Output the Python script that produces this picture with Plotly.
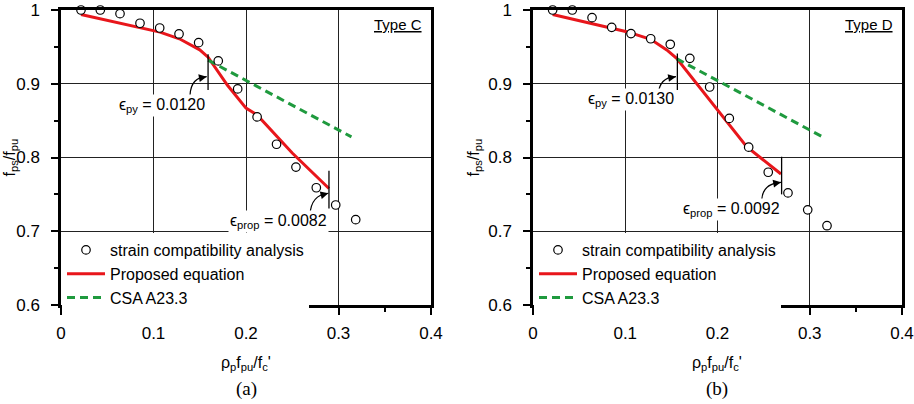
import plotly.graph_objects as go

W, H = 914, 404

# ---------------- data ----------------
# Type C (panel a)
sca_x_C = [0.0216, 0.0425, 0.0638, 0.0854, 0.1067, 0.1276, 0.1488, 0.170, 0.191, 0.212, 0.233, 0.254, 0.276, 0.297, 0.3186]
sca_y_C = [1.000, 1.000, 0.995, 0.982, 0.9756, 0.9675, 0.9557, 0.931, 0.893, 0.855, 0.818, 0.787, 0.759, 0.7356, 0.7157]
prop_x_C = [0.0216, 0.107, 0.128, 0.150, 0.159, 0.180, 0.200, 0.212, 0.250, 0.2897]
prop_y_C = [0.994, 0.970, 0.961, 0.946, 0.936, 0.898, 0.867, 0.8576, 0.806, 0.758]
csa_x_C = [0.159, 0.314]
csa_y_C = [0.932, 0.828]

# Type D (panel b)
sca_x_D = [0.0213, 0.0426, 0.064, 0.0853, 0.1062, 0.1276, 0.1488, 0.170, 0.1915, 0.2128, 0.2338, 0.255, 0.2764, 0.2978, 0.3187]
sca_y_D = [1.000, 1.000, 0.9896, 0.9765, 0.968, 0.961, 0.9535, 0.9345, 0.8956, 0.853, 0.814, 0.780, 0.752, 0.729, 0.7075]
prop_x_D = [0.0213, 0.1016, 0.1276, 0.145, 0.1557, 0.199, 0.2316, 0.2688]
prop_y_D = [0.994, 0.9706, 0.9602, 0.9458, 0.9345, 0.867, 0.8147, 0.7776]
csa_x_D = [0.1557, 0.3147]
csa_y_D = [0.934, 0.8274]

# annotation labels and anchor values
panel_labels = ["(a)", "(b)"]
type_labels = ["Type C", "Type D"]
eps_py_labels = ["\u03f5<sub>py</sub> = 0.0120", "\u03f5<sub>py</sub> = 0.0130"]
eps_prop_labels = ["\u03f5<sub>prop</sub> = 0.0082", "\u03f5<sub>prop</sub> = 0.0092"]
eps_py_text_xy = [(0.1097, 0.871), (0.106, 0.878)]
eps_prop_text_xy = [(0.2346, 0.713), (0.2154, 0.729)]
# vertical marker lines: x, y_bottom, y_top
py_marks = [(0.159, 0.8915, 0.940), (0.1565, 0.8915, 0.941)]
prop_marks = [(0.2897, 0.731, 0.782), (0.2695, 0.750, 0.801)]
# curved arrows: tail, control, tip
py_arrows = [((0.1395, 0.8847), (0.1406, 0.909), (0.1575, 0.9096)),
             ((0.1358, 0.8847), (0.1366, 0.909), (0.155, 0.9096))]
prop_arrows = [((0.2692, 0.722), (0.270, 0.749), (0.289, 0.7515)),
               ((0.2479, 0.7424), (0.249, 0.765), (0.2688, 0.7664))]

x_ticks = [0, 0.1, 0.2, 0.3, 0.4]
y_ticks = [0.6, 0.7, 0.8, 0.9, 1.0]

RED = "#e8161b"
GREEN = "#1f9a3e"
SANS = "Liberation Sans, Arial, sans-serif"
SERIF = "Liberation Serif, Times New Roman, serif"

# ---------------- layout geometry ----------------
def px_x(p):
    return p / W

def px_y(p):
    return (H - p) / H

dom_x = [[px_x(61), px_x(431)], [px_x(533), px_x(902)]]
dom_y = [px_y(305), px_y(10)]

fig = go.Figure()

panels = [
    (sca_x_C, sca_y_C, prop_x_C, prop_y_C, csa_x_C, csa_y_C),
    (sca_x_D, sca_y_D, prop_x_D, prop_y_D, csa_x_D, csa_y_D),
]

for i, (sx, sy, px_, py_, cx, cy) in enumerate(panels):
    xa = "x" if i == 0 else "x2"
    ya = "y" if i == 0 else "y2"
    lg = "legend" if i == 0 else "legend2"
    fig.add_trace(go.Scatter(x=px_, y=py_, mode="lines", xaxis=xa, yaxis=ya,
                             line=dict(color=RED, width=3), name="Proposed equation",
                             legend=lg, legendrank=2))
    fig.add_trace(go.Scatter(x=cx, y=cy, mode="lines", xaxis=xa, yaxis=ya,
                             line=dict(color=GREEN, width=3, dash="8px,5px"), name="CSA A23.3",
                             legend=lg, legendrank=3))
    fig.add_trace(go.Scatter(x=sx, y=sy, mode="markers", xaxis=xa, yaxis=ya,
                             marker=dict(symbol="circle", size=8.5, color="white",
                                         line=dict(color="black", width=1.2)),
                             name="strain compatibility analysis", cliponaxis=False,
                             legend=lg, legendrank=1))

axis_common = dict(
    showline=True, linecolor="black", linewidth=2.5, mirror=True,
    showgrid=True, gridcolor="#222222", gridwidth=1,
    ticks="outside", ticklen=7, tickwidth=1.5, tickcolor="black",
    tickfont=dict(family=SANS, size=17, color="black"),
    zeroline=False, automargin=False,
)

layout = dict(
    width=W, height=H,
    margin=dict(l=0, r=0, t=0, b=0),
    paper_bgcolor="white", plot_bgcolor="white",
    showlegend=True,
)

for i in range(2):
    sfx = "" if i == 0 else "2"
    layout["xaxis" + sfx] = dict(axis_common, domain=dom_x[i], range=[0, 0.4],
                                 tickvals=x_ticks, ticktext=["0", "0.1", "0.2", "0.3", "0.4"],
                                 anchor="y" + sfx, ticklabelstandoff=4,
                                 minor=dict(dtick=0.05, tick0=0, ticks="outside", ticklen=4,
                                            tickwidth=1.5, tickcolor="black", showgrid=False))
    layout["yaxis" + sfx] = dict(axis_common, domain=dom_y, range=[0.6, 1.0],
                                 tickvals=y_ticks, ticktext=["0.6", "0.7", "0.8", "0.9", "1"],
                                 anchor="x" + sfx, ticklabelstandoff=8,
                                 minor=dict(dtick=0.05, tick0=0.6, ticks="outside", ticklen=4,
                                            tickwidth=1.5, tickcolor="black", showgrid=False))

leg_common = dict(bgcolor="white", borderwidth=0, font=dict(family=SANS, size=16, color="black"),
                  yanchor="top", xanchor="left", tracegroupgap=0, itemwidth=38)
layout["legend"] = dict(leg_common, x=px_x(62), y=px_y(233))
layout["legend2"] = dict(leg_common, x=px_x(534), y=px_y(233))

fig.update_layout(**layout)

annotations = []
shapes = []
for i in range(2):
    xr = "x" if i == 0 else "x2"
    yr = "y" if i == 0 else "y2"
    cx0 = (dom_x[i][0] + dom_x[i][1]) / 2
    # axis titles
    annotations.append(dict(text="\u03c1<sub>p</sub>f<sub>pu</sub>/f<sub>c</sub>'", x=cx0, y=px_y(363),
                            xref="paper", yref="paper", xanchor="center", yanchor="middle",
                            showarrow=False, font=dict(family=SANS, size=16, color="black")))
    annotations.append(dict(text=panel_labels[i], x=cx0, y=px_y(389), xref="paper", yref="paper",
                            xanchor="center", yanchor="middle",
                            showarrow=False, font=dict(family=SERIF, size=19, color="black")))
    annotations.append(dict(text="f<sub>ps</sub>/f<sub>pu</sub>", textangle=-90,
                            x=px_x(10 if i == 0 else 474), y=px_y(157.5), xref="paper", yref="paper",
                            xanchor="center", yanchor="middle",
                            showarrow=False, font=dict(family=SANS, size=16, color="black")))
    # type label
    annotations.append(dict(text="<u>" + type_labels[i] + "</u>", x=0.3925, y=0.98, xref=xr, yref=yr,
                            xanchor="right", yanchor="middle", showarrow=False,
                            font=dict(family=SANS, size=15, color="black")))
    # epsilon labels
    annotations.append(dict(text=eps_py_labels[i], x=eps_py_text_xy[i][0], y=eps_py_text_xy[i][1],
                            xref=xr, yref=yr, xanchor="center", yanchor="middle",
                            showarrow=False, bgcolor="white", borderpad=1,
                            font=dict(family=SANS, size=16, color="black")))
    annotations.append(dict(text=eps_prop_labels[i], x=eps_prop_text_xy[i][0], y=eps_prop_text_xy[i][1],
                            xref=xr, yref=yr, xanchor="center", yanchor="middle",
                            showarrow=False, bgcolor="white", borderpad=1,
                            font=dict(family=SANS, size=16, color="black")))
    # vertical markers
    for (mx, y0, y1) in (py_marks[i], prop_marks[i]):
        shapes.append(dict(type="line", xref=xr, yref=yr, x0=mx, x1=mx, y0=y0, y1=y1,
                           line=dict(color="black", width=1.3)))
    # curved arrows
    for (t, c, e) in (py_arrows[i], prop_arrows[i]):
        path = f"M {t[0]},{t[1]} Q {c[0]},{c[1]} {e[0]},{e[1]}"
        shapes.append(dict(type="path", path=path, xref=xr, yref=yr,
                           line=dict(color="black", width=1.2)))
        s = 0.75
        bx = (1 - s) ** 2 * t[0] + 2 * (1 - s) * s * c[0] + s ** 2 * e[0]
        by = (1 - s) ** 2 * t[1] + 2 * (1 - s) * s * c[1] + s ** 2 * e[1]
        annotations.append(dict(text="", x=e[0], y=e[1], ax=bx, ay=by, xref=xr, yref=yr,
                                axref=xr, ayref=yr, showarrow=True, arrowhead=2, arrowsize=1.3,
                                arrowwidth=1.2, arrowcolor="black", standoff=0))

fig.update_layout(annotations=annotations, shapes=shapes)

fig.write_html("out.html")
